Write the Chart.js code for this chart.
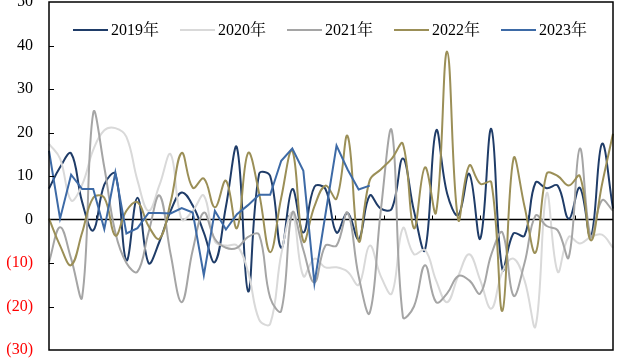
<!DOCTYPE html>
<html>
<head>
<meta charset="utf-8">
<script src="https://cdn.jsdelivr.net/npm/chart.js@4.4.1/dist/chart.umd.min.js"></script>
<style>
  html, body { margin: 0; padding: 0; background: #fff; }
  canvas { display: block; }
</style>
</head>
<body>
<canvas id="chart" width="617" height="364"></canvas>
<script>
// weekly values
const weeks = Array.from({ length: 52 }, (_, i) => "W" + (i + 1));

const y2019 = [7.1, 12, 15.2, 4, -2.5, 8, 10.5, -9.4, 5, -10, -5, 2, 6.2, 3.2, -3, -9.8,
  3, 16.5, -16.5, 10.5, 10, -6.5, 7, -3, 7.5, 7, -3, 1.5, -4.5, 5.5, 2.5, 2.5,
  14, 2, -7, 20.4, 6, 1, 10.5, -4.4, 20.8, -11.5, -3.2, -3.7, 8.5, 7.2, 7.8, 0.2,
  7.3, -4, 17.4, 2.5];

const y2020 = [17.4, 14, 4.4, 8, 16, 20.5, 21, 19, 9, 2, 8, 15, 0, 2, 5.5, -5,
  -6, -6, -12, -23, -24, -8, 1.5, -13, -9, -11, -11, -12, -15, -6, -13, -17,
  -2, -8, -7, -14, -19, -13, -8, -14, -20.5, -12, -9, -14, -24.5, 6, -12, -4,
  -5.5, -4, -3.5, -6.5];

const y2021 = [-9.8, -1.8, -9, -17.8, 24.5, 12, -3, -10, -12, -3, 5.5, -8, -19, -7, 1.6, -4.5,
  -6.5, -6.5, -4, -3.5, -18, -21, 1.6, -7, -14.5, -6, -6, 1.6, -13, -21.5, 2, 20.4,
  -22.4, -20, -10.5, -19, -17, -13, -14, -17, -8, -3, -17.5, -10, 0.9, -1.5, -2.5, -8.7,
  16.3, -4, 4.4, 2];

const y2022 = [0.2, -6, -10.5, -3, 5, 5, -3.7, 2, 4, -1.5, -4.4, 4, 15.3, 7.3, 9.4, 2.8,
  8.9, -2, 15.3, 6, -7.5, 5, 15.8, -5, 3, 7.8, 4.8, 19.2, -5, 9, 11.5, 14,
  17.4, -2, 12, 1.6, 38.6, 0, 12.4, 8.2, 8.5, -21, 14, 3, -7.6, 10.5, 10, 7.8,
  10, -4.8, 8, 19.7];

const y2023 = [15.8, 0.2, 10.3, 7, 7, -2.2, 10.8, -3.2, -2, 1.5, 1.5, 1.4, 2.6, 1.6, -12.8, 2,
  -2.3, 1.2, 3.3, 5.7, 5.7, 13.5, 16.3, 11.2, -14.7, 1.2, 17, 11.5, 6.9, 7.8];

const seriesNames = ["2019年", "2020年", "2021年", "2022年", "2023年"];
const seriesColors = ["#1f3c68", "#d9d9d9", "#a5a5a5", "#9b8f57", "#3d6aa6"];

// small month marks sitting on the zero line (in week units)
const monthTicks = [4.25, 8.6, 12.9, 17.3, 21.6, 25.9, 30.3, 34.6, 39.0, 43.3, 47.6];

const fontFamily = '"Liberation Serif", "Times New Roman", "Noto Serif CJK SC", "Noto Sans CJK SC", serif';

const plotFrame = {
  id: "plotFrame",
  beforeDatasetsDraw(chart) {
    const { ctx, chartArea: a, scales } = chart;
    const y0 = scales.y.getPixelForValue(0);
    ctx.save();
    ctx.strokeStyle = "#000";
    ctx.lineWidth = 1.5;
    ctx.beginPath();
    ctx.moveTo(a.left, y0);
    ctx.lineTo(a.right, y0);
    ctx.stroke();
    ctx.lineWidth = 1;
    monthTicks.forEach(t => {
      const x = Math.round(scales.x.getPixelForValue(t)) + 0.5;
      ctx.beginPath();
      ctx.moveTo(x, y0);
      ctx.lineTo(x, y0 - 4);
      ctx.stroke();
    });
    ctx.restore();
  },
  afterDatasetsDraw(chart) {
    const { ctx, chartArea: a, scales } = chart;
    ctx.save();
    ctx.strokeStyle = "#000";
    ctx.lineWidth = 1.5;
    ctx.strokeRect(a.left, a.top, a.right - a.left, a.bottom - a.top);
    ctx.lineWidth = 1;
    scales.y.ticks.forEach(t => {
      if (t.value <= -30 || t.value >= 50 || t.value === 0) return;
      const y = Math.round(scales.y.getPixelForValue(t.value)) + 0.5;
      ctx.beginPath();
      ctx.moveTo(a.left, y);
      ctx.lineTo(a.left + 5, y);
      ctx.stroke();
    });
    ctx.restore();
  },
};

// one-row legend inside the plot, near the top
const insideLegend = {
  id: "insideLegend",
  afterDraw(chart) {
    const { ctx, chartArea: a } = chart;
    const lineLen = 35, gap = 3, spacing = 21, cy = 30;
    ctx.save();
    ctx.font = "16px " + fontFamily;
    ctx.textBaseline = "middle";
    const items = chart.data.datasets.map(ds => ({
      label: ds.label,
      color: ds.borderColor,
      w: lineLen + gap + ctx.measureText(ds.label).width,
    }));
    const total = items.reduce((s, it) => s + it.w, 0) + spacing * (items.length - 1);
    let x = (a.left + a.right) / 2 - 1 - total / 2;
    items.forEach(it => {
      ctx.strokeStyle = it.color;
      ctx.lineWidth = 2;
      ctx.beginPath();
      ctx.moveTo(x, cy);
      ctx.lineTo(x + lineLen, cy);
      ctx.stroke();
      ctx.fillStyle = "#000";
      ctx.fillText(it.label, x + lineLen + gap, cy + 1);
      x += it.w + spacing;
    });
    ctx.restore();
  },
};

const allValues = [y2019, y2020, y2021, y2022, y2023];

new Chart(document.getElementById("chart"), {
  type: "line",
  data: {
    labels: weeks,
    datasets: allValues.map((vals, i) => ({
      label: seriesNames[i],
      data: vals,
      borderColor: seriesColors[i],
      backgroundColor: seriesColors[i],
      borderWidth: 2,
      pointRadius: 0,
      tension: i === 4 ? 0 : 0.4,
      order: 5 - i,
    })),
  },
  options: {
    responsive: false,
    animation: false,
    layout: { autoPadding: false, padding: { top: 2, right: 4, bottom: 14, left: 0 } },
    plugins: {
      tooltip: { enabled: false },
      legend: { display: false },
    },
    scales: {
      x: {
        display: false,
        offset: false,
      },
      y: {
        min: -30,
        max: 50,
        afterFit: scale => {
          scale.width = 49;
          scale.paddingTop = 0;
          scale.paddingBottom = 0;
        },
        grid: { display: false, drawTicks: false },
        border: { display: false },
        ticks: {
          stepSize: 10,
          padding: 16,
          font: { family: fontFamily, size: 16 },
          color: ctx => (ctx.tick.value < 0 ? "#ff0000" : "#000"),
          callback: v => (v < 0 ? "(" + Math.abs(v) + ")" : String(v)),
        },
      },
    },
  },
  plugins: [plotFrame, insideLegend],
});
</script>
</body>
</html>
